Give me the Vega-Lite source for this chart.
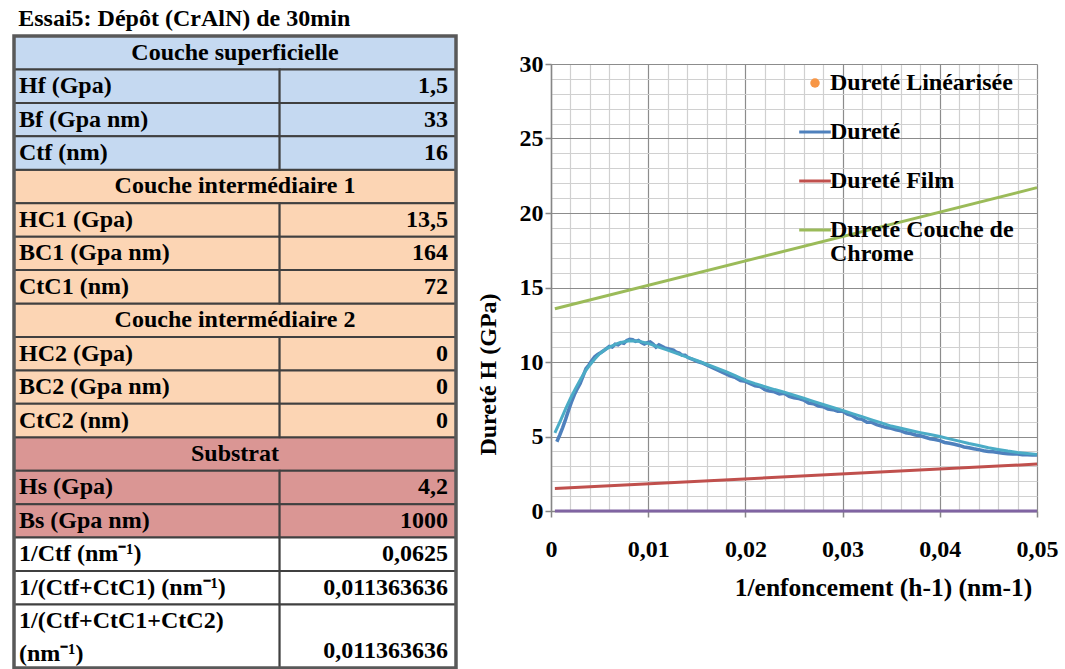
{
  "$schema": "https://vega.github.io/schema/vega-lite/v6.json",
  "padding": {"left": 12, "top": 7, "right": 2, "bottom": 0},
  "title": {"text": "Essai5: Dépôt (CrAlN) de 30min", "anchor": "start", "dx": 6, "offset": 3, "font": "Liberation Serif", "fontSize": 24, "fontWeight": "bold", "color": "#000000"},
  "spacing": 18,
  "resolve": {"scale": {"color": "independent", "fill": "independent"}, "legend": {"color": "independent", "fill": "independent"}},
  "datasets": {
    "table": [
      {"row": 0, "rowEnd": 1, "kind": "header", "section": "sup", "label": "Couche superficielle", "value": ""},
      {"row": 1, "rowEnd": 2, "kind": "data", "section": "sup", "label": "Hf (Gpa)", "value": "1,5"},
      {"row": 2, "rowEnd": 3, "kind": "data", "section": "sup", "label": "Bf (Gpa nm)", "value": "33"},
      {"row": 3, "rowEnd": 4, "kind": "data", "section": "sup", "label": "Ctf (nm)", "value": "16"},
      {"row": 4, "rowEnd": 5, "kind": "header", "section": "int", "label": "Couche intermédiaire 1", "value": ""},
      {"row": 5, "rowEnd": 6, "kind": "data", "section": "int", "label": "HC1 (Gpa)", "value": "13,5"},
      {"row": 6, "rowEnd": 7, "kind": "data", "section": "int", "label": "BC1 (Gpa nm)", "value": "164"},
      {"row": 7, "rowEnd": 8, "kind": "data", "section": "int", "label": "CtC1 (nm)", "value": "72"},
      {"row": 8, "rowEnd": 9, "kind": "header", "section": "int", "label": "Couche intermédiaire 2", "value": ""},
      {"row": 9, "rowEnd": 10, "kind": "data", "section": "int", "label": "HC2 (Gpa)", "value": "0"},
      {"row": 10, "rowEnd": 11, "kind": "data", "section": "int", "label": "BC2 (Gpa nm)", "value": "0"},
      {"row": 11, "rowEnd": 12, "kind": "data", "section": "int", "label": "CtC2 (nm)", "value": "0"},
      {"row": 12, "rowEnd": 13, "kind": "header", "section": "sub", "label": "Substrat", "value": ""},
      {"row": 13, "rowEnd": 14, "kind": "data", "section": "sub", "label": "Hs (Gpa)", "value": "4,2"},
      {"row": 14, "rowEnd": 15, "kind": "data", "section": "sub", "label": "Bs (Gpa nm)", "value": "1000"},
      {"row": 15, "rowEnd": 16, "kind": "data", "section": "calc", "label": "1/Ctf (nm⁻¹)", "value": "0,0625"},
      {"row": 16, "rowEnd": 17, "kind": "data", "section": "calc", "label": "1/(Ctf+CtC1) (nm⁻¹)", "value": "0,011363636"},
      {"row": 17, "rowEnd": 18.9, "kind": "data", "section": "calc", "label": "1/(Ctf+CtC1+CtC2)\n(nm⁻¹)", "value": "0,011363636"}
    ],
    "chart": [
      {"series": "Dureté Couche de Chrome", "x": 0.0004, "y": 13.57},
      {"series": "Dureté Couche de Chrome", "x": 0.05, "y": 21.7},
      {"series": "Dureté Film", "x": 0.0004, "y": 1.51},
      {"series": "Dureté Film", "x": 0.05, "y": 3.15},
      {"series": "Dureté Couche 2", "x": 0.0004, "y": 0},
      {"series": "Dureté Couche 2", "x": 0.05, "y": 0},
      {"series": "Dureté Modèle", "x": 0.0004, "y": 5.25},
      {"series": "Dureté Modèle", "x": 0.001, "y": 6.1},
      {"series": "Dureté Modèle", "x": 0.0015, "y": 6.85},
      {"series": "Dureté Modèle", "x": 0.002, "y": 7.55},
      {"series": "Dureté Modèle", "x": 0.0025, "y": 8.2},
      {"series": "Dureté Modèle", "x": 0.003, "y": 8.8},
      {"series": "Dureté Modèle", "x": 0.0035, "y": 9.35},
      {"series": "Dureté Modèle", "x": 0.004, "y": 9.8},
      {"series": "Dureté Modèle", "x": 0.0045, "y": 10.2},
      {"series": "Dureté Modèle", "x": 0.005, "y": 10.55},
      {"series": "Dureté Modèle", "x": 0.0055, "y": 10.8},
      {"series": "Dureté Modèle", "x": 0.006, "y": 11.0},
      {"series": "Dureté Modèle", "x": 0.007, "y": 11.28},
      {"series": "Dureté Modèle", "x": 0.008, "y": 11.43},
      {"series": "Dureté Modèle", "x": 0.009, "y": 11.4},
      {"series": "Dureté Modèle", "x": 0.01, "y": 11.25},
      {"series": "Dureté Modèle", "x": 0.011, "y": 11.02},
      {"series": "Dureté Modèle", "x": 0.012, "y": 10.8},
      {"series": "Dureté Modèle", "x": 0.013, "y": 10.56},
      {"series": "Dureté Modèle", "x": 0.014, "y": 10.33},
      {"series": "Dureté Modèle", "x": 0.015, "y": 10.1},
      {"series": "Dureté Modèle", "x": 0.016, "y": 9.85},
      {"series": "Dureté Modèle", "x": 0.017, "y": 9.6},
      {"series": "Dureté Modèle", "x": 0.018, "y": 9.35},
      {"series": "Dureté Modèle", "x": 0.019, "y": 9.07},
      {"series": "Dureté Modèle", "x": 0.02, "y": 8.77},
      {"series": "Dureté Modèle", "x": 0.021, "y": 8.55},
      {"series": "Dureté Modèle", "x": 0.022, "y": 8.35},
      {"series": "Dureté Modèle", "x": 0.023, "y": 8.15},
      {"series": "Dureté Modèle", "x": 0.024, "y": 7.97},
      {"series": "Dureté Modèle", "x": 0.025, "y": 7.78},
      {"series": "Dureté Modèle", "x": 0.026, "y": 7.57},
      {"series": "Dureté Modèle", "x": 0.027, "y": 7.36},
      {"series": "Dureté Modèle", "x": 0.028, "y": 7.15},
      {"series": "Dureté Modèle", "x": 0.029, "y": 6.95},
      {"series": "Dureté Modèle", "x": 0.03, "y": 6.75},
      {"series": "Dureté Modèle", "x": 0.031, "y": 6.54},
      {"series": "Dureté Modèle", "x": 0.032, "y": 6.33},
      {"series": "Dureté Modèle", "x": 0.033, "y": 6.12},
      {"series": "Dureté Modèle", "x": 0.034, "y": 5.91},
      {"series": "Dureté Modèle", "x": 0.035, "y": 5.7},
      {"series": "Dureté Modèle", "x": 0.036, "y": 5.55},
      {"series": "Dureté Modèle", "x": 0.037, "y": 5.4},
      {"series": "Dureté Modèle", "x": 0.038, "y": 5.26},
      {"series": "Dureté Modèle", "x": 0.039, "y": 5.13},
      {"series": "Dureté Modèle", "x": 0.04, "y": 5.0},
      {"series": "Dureté Modèle", "x": 0.041, "y": 4.84},
      {"series": "Dureté Modèle", "x": 0.042, "y": 4.69},
      {"series": "Dureté Modèle", "x": 0.043, "y": 4.53},
      {"series": "Dureté Modèle", "x": 0.044, "y": 4.39},
      {"series": "Dureté Modèle", "x": 0.045, "y": 4.25},
      {"series": "Dureté Modèle", "x": 0.046, "y": 4.13},
      {"series": "Dureté Modèle", "x": 0.047, "y": 4.02},
      {"series": "Dureté Modèle", "x": 0.048, "y": 3.93},
      {"series": "Dureté Modèle", "x": 0.049, "y": 3.86},
      {"series": "Dureté Modèle", "x": 0.05, "y": 3.8},
      {"series": "Dureté", "x": 0.0006, "y": 4.65},
      {"series": "Dureté", "x": 0.0009, "y": 5.1},
      {"series": "Dureté", "x": 0.0012, "y": 5.6},
      {"series": "Dureté", "x": 0.0015, "y": 6.15},
      {"series": "Dureté", "x": 0.0018, "y": 6.75},
      {"series": "Dureté", "x": 0.0021, "y": 7.3},
      {"series": "Dureté", "x": 0.0024, "y": 7.8},
      {"series": "Dureté", "x": 0.0027, "y": 8.2},
      {"series": "Dureté", "x": 0.003, "y": 8.55},
      {"series": "Dureté", "x": 0.0033, "y": 9.05},
      {"series": "Dureté", "x": 0.0036, "y": 9.55},
      {"series": "Dureté", "x": 0.0039, "y": 9.8},
      {"series": "Dureté", "x": 0.0042, "y": 10.1},
      {"series": "Dureté", "x": 0.0045, "y": 10.35},
      {"series": "Dureté", "x": 0.0048, "y": 10.5},
      {"series": "Dureté", "x": 0.0051, "y": 10.62},
      {"series": "Dureté", "x": 0.0054, "y": 10.75},
      {"series": "Dureté", "x": 0.0057, "y": 10.9},
      {"series": "Dureté", "x": 0.006, "y": 11.05},
      {"series": "Dureté", "x": 0.0063, "y": 11.0},
      {"series": "Dureté", "x": 0.0066, "y": 11.2},
      {"series": "Dureté", "x": 0.0069, "y": 11.15},
      {"series": "Dureté", "x": 0.0072, "y": 11.3},
      {"series": "Dureté", "x": 0.0075, "y": 11.25},
      {"series": "Dureté", "x": 0.0078, "y": 11.45},
      {"series": "Dureté", "x": 0.0081, "y": 11.52},
      {"series": "Dureté", "x": 0.0084, "y": 11.5},
      {"series": "Dureté", "x": 0.0087, "y": 11.38},
      {"series": "Dureté", "x": 0.009, "y": 11.45},
      {"series": "Dureté", "x": 0.0093, "y": 11.3},
      {"series": "Dureté", "x": 0.0096, "y": 11.2},
      {"series": "Dureté", "x": 0.0099, "y": 11.3},
      {"series": "Dureté", "x": 0.0102, "y": 11.35},
      {"series": "Dureté", "x": 0.0105, "y": 11.2},
      {"series": "Dureté", "x": 0.0108, "y": 11.0},
      {"series": "Dureté", "x": 0.0111, "y": 11.15},
      {"series": "Dureté", "x": 0.0114, "y": 11.05},
      {"series": "Dureté", "x": 0.0117, "y": 10.95},
      {"series": "Dureté", "x": 0.012, "y": 10.9},
      {"series": "Dureté", "x": 0.0123, "y": 10.85},
      {"series": "Dureté", "x": 0.0126, "y": 10.8},
      {"series": "Dureté", "x": 0.0129, "y": 10.65},
      {"series": "Dureté", "x": 0.0132, "y": 10.6},
      {"series": "Dureté", "x": 0.0135, "y": 10.45},
      {"series": "Dureté", "x": 0.0138, "y": 10.45},
      {"series": "Dureté", "x": 0.0141, "y": 10.3},
      {"series": "Dureté", "x": 0.0145, "y": 10.2},
      {"series": "Dureté", "x": 0.015, "y": 10.05},
      {"series": "Dureté", "x": 0.0155, "y": 9.95},
      {"series": "Dureté", "x": 0.016, "y": 9.8},
      {"series": "Dureté", "x": 0.0165, "y": 9.65},
      {"series": "Dureté", "x": 0.017, "y": 9.5},
      {"series": "Dureté", "x": 0.0175, "y": 9.35},
      {"series": "Dureté", "x": 0.018, "y": 9.2},
      {"series": "Dureté", "x": 0.0185, "y": 9.05},
      {"series": "Dureté", "x": 0.019, "y": 8.95},
      {"series": "Dureté", "x": 0.0195, "y": 8.75},
      {"series": "Dureté", "x": 0.02, "y": 8.7},
      {"series": "Dureté", "x": 0.0205, "y": 8.55},
      {"series": "Dureté", "x": 0.021, "y": 8.4},
      {"series": "Dureté", "x": 0.0215, "y": 8.35},
      {"series": "Dureté", "x": 0.022, "y": 8.15},
      {"series": "Dureté", "x": 0.0225, "y": 8.05},
      {"series": "Dureté", "x": 0.023, "y": 8.0},
      {"series": "Dureté", "x": 0.0235, "y": 7.85},
      {"series": "Dureté", "x": 0.024, "y": 7.9},
      {"series": "Dureté", "x": 0.0245, "y": 7.7},
      {"series": "Dureté", "x": 0.025, "y": 7.6},
      {"series": "Dureté", "x": 0.0255, "y": 7.55},
      {"series": "Dureté", "x": 0.026, "y": 7.45},
      {"series": "Dureté", "x": 0.0265, "y": 7.25},
      {"series": "Dureté", "x": 0.027, "y": 7.2},
      {"series": "Dureté", "x": 0.0275, "y": 7.05},
      {"series": "Dureté", "x": 0.028, "y": 7.0},
      {"series": "Dureté", "x": 0.0285, "y": 6.85},
      {"series": "Dureté", "x": 0.029, "y": 6.8},
      {"series": "Dureté", "x": 0.0295, "y": 6.7},
      {"series": "Dureté", "x": 0.03, "y": 6.7},
      {"series": "Dureté", "x": 0.0305, "y": 6.5},
      {"series": "Dureté", "x": 0.031, "y": 6.4},
      {"series": "Dureté", "x": 0.0315, "y": 6.2},
      {"series": "Dureté", "x": 0.032, "y": 6.15},
      {"series": "Dureté", "x": 0.0325, "y": 5.95},
      {"series": "Dureté", "x": 0.033, "y": 5.95},
      {"series": "Dureté", "x": 0.0335, "y": 5.8},
      {"series": "Dureté", "x": 0.034, "y": 5.7},
      {"series": "Dureté", "x": 0.0345, "y": 5.6},
      {"series": "Dureté", "x": 0.035, "y": 5.55},
      {"series": "Dureté", "x": 0.0355, "y": 5.45},
      {"series": "Dureté", "x": 0.036, "y": 5.38},
      {"series": "Dureté", "x": 0.0365, "y": 5.25},
      {"series": "Dureté", "x": 0.037, "y": 5.2},
      {"series": "Dureté", "x": 0.0375, "y": 5.1},
      {"series": "Dureté", "x": 0.038, "y": 5.05},
      {"series": "Dureté", "x": 0.0385, "y": 4.95},
      {"series": "Dureté", "x": 0.039, "y": 4.85},
      {"series": "Dureté", "x": 0.0395, "y": 4.8},
      {"series": "Dureté", "x": 0.04, "y": 4.72},
      {"series": "Dureté", "x": 0.0405, "y": 4.6},
      {"series": "Dureté", "x": 0.041, "y": 4.55},
      {"series": "Dureté", "x": 0.0415, "y": 4.48},
      {"series": "Dureté", "x": 0.042, "y": 4.4},
      {"series": "Dureté", "x": 0.0425, "y": 4.3},
      {"series": "Dureté", "x": 0.043, "y": 4.25},
      {"series": "Dureté", "x": 0.0435, "y": 4.18},
      {"series": "Dureté", "x": 0.044, "y": 4.12},
      {"series": "Dureté", "x": 0.0445, "y": 4.05},
      {"series": "Dureté", "x": 0.045, "y": 4.0},
      {"series": "Dureté", "x": 0.0455, "y": 3.98},
      {"series": "Dureté", "x": 0.046, "y": 3.92},
      {"series": "Dureté", "x": 0.0465, "y": 3.88},
      {"series": "Dureté", "x": 0.047, "y": 3.85},
      {"series": "Dureté", "x": 0.0475, "y": 3.82},
      {"series": "Dureté", "x": 0.048, "y": 3.82},
      {"series": "Dureté", "x": 0.0485, "y": 3.78},
      {"series": "Dureté", "x": 0.049, "y": 3.78},
      {"series": "Dureté", "x": 0.0495, "y": 3.76},
      {"series": "Dureté", "x": 0.05, "y": 3.75}
    ]
  },
  "hconcat": [
    {
      "width": 442,
      "height": 604,
      "data": {"name": "table"},
      "transform": [
        {"calculate": "(datum.row + datum.rowEnd) / 2", "as": "mid"},
        {"calculate": "datum.row + 0.5", "as": "lmid"},
        {"calculate": "datum.rowEnd - 0.5", "as": "vmid"}
      ],
      "layer": [
        {
          "transform": [{"filter": "datum.kind === 'header'"}],
          "mark": {"type": "rect", "stroke": "#404040", "strokeWidth": 2},
          "encoding": {
            "x": {"datum": 0, "type": "quantitative", "scale": {"domain": [0, 1], "nice": false, "zero": false}, "axis": null},
            "x2": {"datum": 1},
            "y": {"field": "row", "type": "quantitative", "scale": {"domain": [0, 18.9], "range": [-28, 604], "nice": false, "zero": false}, "axis": null},
            "y2": {"field": "rowEnd"},
            "fill": {"field": "section", "type": "nominal", "scale": {"domain": ["sup", "int", "sub", "calc"], "range": ["#C5D9F1", "#FCD5B4", "#DA9694", "#FFFFFF"]}, "legend": null}
          }
        },
        {
          "transform": [{"filter": "datum.kind === 'data'"}],
          "mark": {"type": "rect", "stroke": "#404040", "strokeWidth": 2},
          "encoding": {
            "x": {"datum": 0, "type": "quantitative", "axis": null},
            "x2": {"datum": 0.601},
            "y": {"field": "row", "type": "quantitative", "axis": null},
            "y2": {"field": "rowEnd"},
            "fill": {"field": "section", "type": "nominal", "legend": null}
          }
        },
        {
          "transform": [{"filter": "datum.kind === 'data'"}],
          "mark": {"type": "rect", "stroke": "#404040", "strokeWidth": 2},
          "encoding": {
            "x": {"datum": 0.601, "type": "quantitative", "axis": null},
            "x2": {"datum": 1},
            "y": {"field": "row", "type": "quantitative", "axis": null},
            "y2": {"field": "rowEnd"},
            "fill": {"field": "section", "type": "nominal", "legend": null}
          }
        },
        {
          "transform": [{"filter": "datum.row === 0"}],
          "mark": {"type": "rect", "fill": null, "stroke": "#595959", "strokeWidth": 3.5},
          "encoding": {
            "x": {"datum": 0, "type": "quantitative", "axis": null},
            "x2": {"datum": 1},
            "y": {"datum": 0, "type": "quantitative", "axis": null},
            "y2": {"datum": 18.9}
          }
        },
        {
          "transform": [{"filter": "datum.kind === 'header'"}],
          "mark": {"type": "text", "align": "center", "baseline": "middle", "font": "Liberation Serif", "fontSize": 24, "fontWeight": "bold", "color": "#000000"},
          "encoding": {
            "x": {"datum": 0.5, "type": "quantitative", "axis": null},
            "y": {"field": "mid", "type": "quantitative", "axis": null},
            "text": {"field": "label", "type": "nominal"}
          }
        },
        {
          "transform": [{"filter": "datum.kind === 'data'"}],
          "mark": {"type": "text", "align": "left", "baseline": "middle", "dx": 5, "lineBreak": "\n", "lineHeight": 33, "font": "Liberation Serif", "fontSize": 24, "fontWeight": "bold", "color": "#000000"},
          "encoding": {
            "x": {"datum": 0, "type": "quantitative", "axis": null},
            "y": {"field": "lmid", "type": "quantitative", "axis": null},
            "text": {"field": "label", "type": "nominal"}
          }
        },
        {
          "transform": [{"filter": "datum.kind === 'data'"}],
          "mark": {"type": "text", "align": "right", "baseline": "middle", "dx": -8, "font": "Liberation Serif", "fontSize": 24, "fontWeight": "bold", "color": "#000000"},
          "encoding": {
            "x": {"datum": 1, "type": "quantitative", "axis": null},
            "y": {"field": "vmid", "type": "quantitative", "axis": null},
            "text": {"field": "value", "type": "nominal"}
          }
        }
      ]
    },
    {
      "width": 486,
      "height": 447,
      "data": {"name": "chart"},
      "resolve": {"axis": {"x": "independent", "y": "independent"}},
      "layer": [
        {
          "transform": [{"filter": "datum.series === 'Dureté Couche 2' || datum.series === 'Dureté Film' || datum.series === 'Dureté Couche de Chrome'"}],
          "mark": {"type": "line", "strokeWidth": 3},
          "encoding": {
            "x": {
              "field": "x", "type": "quantitative",
              "scale": {"domain": [0, 0.05], "nice": false, "zero": false},
              "axis": {"orient": "top", "values": [0.002, 0.004, 0.006, 0.008, 0.012, 0.014, 0.016, 0.018, 0.022, 0.024, 0.026, 0.028, 0.032, 0.034, 0.036, 0.038, 0.042, 0.044, 0.046, 0.048], "grid": true, "gridColor": "#D0D0D0", "gridWidth": 1.2, "labels": false, "ticks": false, "domain": false, "title": null}
            },
            "y": {
              "field": "y", "type": "quantitative",
              "scale": {"domain": [0, 30], "nice": false, "zero": false},
              "axis": {"orient": "right", "values": [1, 2, 3, 4, 6, 7, 8, 9, 11, 12, 13, 14, 16, 17, 18, 19, 21, 22, 23, 24, 26, 27, 28, 29], "grid": true, "gridColor": "#D0D0D0", "gridWidth": 1.2, "labels": false, "ticks": false, "domain": false, "title": null}
            },
            "color": {
              "field": "series", "type": "nominal",
              "scale": {
                "domain": ["Dureté Linéarisée", "Dureté", "Dureté Film", "Dureté Couche de Chrome", "Dureté Couche 2", "Dureté Modèle"],
                "range": ["#F79646", "#4F81BD", "#C0504D", "#9BBB59", "#8064A2", "#4BACC6"]
              },
              "legend": {
                "orient": "none", "legendX": 252, "legendY": 7, "direction": "vertical",
                "title": null,
                "values": ["Dureté Linéarisée", "Dureté", "Dureté Film", "Dureté Couche de Chrome"],
                "symbolType": "stroke", "symbolSize": 1000, "symbolStrokeWidth": 3,
                "rowPadding": 25, "labelOffset": 3, "padding": 0, "labelLimit": 400,
                "labelFont": "Liberation Serif", "labelFontSize": 24, "labelFontWeight": "bold", "labelColor": "#000000",
                "encode": {
                  "symbols": {"update": {
                    "shape": {"signal": "datum.value === 'Dureté Linéarisée' ? 'circle' : 'stroke'"},
                    "size": {"signal": "datum.value === 'Dureté Linéarisée' ? 90 : 1000"},
                    "fill": {"signal": "datum.value === 'Dureté Linéarisée' ? '#F79646' : 'transparent'"},
                    "strokeWidth": {"signal": "datum.value === 'Dureté Linéarisée' ? 0 : 3"}
                  }},
                  "labels": {"update": {
                    "text": {"signal": "datum.value === 'Dureté Couche de Chrome' ? ['Dureté Couche de', 'Chrome'] : datum.label"},
                    "baseline": {"signal": "datum.value === 'Dureté Couche de Chrome' ? 'top' : 'middle'"},
                    "dy": {"signal": "datum.value === 'Dureté Couche de Chrome' ? -12 : 0"},
                    "lineHeight": {"value": 24}
                  }}
                }
              }
            }
          }
        },
        {
          "transform": [{"filter": "datum.series === 'Dureté'"}],
          "mark": {"type": "line", "strokeWidth": 3.5},
          "encoding": {
            "x": {
              "field": "x", "type": "quantitative",
              "axis": {
                "orient": "bottom", "values": [0, 0.01, 0.02, 0.03, 0.04, 0.05], "grid": true, "gridColor": "#8C8C8C", "gridWidth": 1.2,
                "domainColor": "#868686", "domainWidth": 1.5, "tickColor": "#868686", "tickSize": 6, "tickWidth": 1.5,
                "labelPadding": 20, "labelFlush": false, "labelOverlap": false,
                "labelExpr": "datum.value === 0 ? '0' : replace(format(datum.value, '.2f'), '.', ',')",
                "title": "1/enfoncement (h-1) (nm-1)", "titleFontSize": 25.5, "titlePadding": 14, "titleX": 332, "titleAlign": "center"
              }
            },
            "y": {
              "field": "y", "type": "quantitative",
              "axis": {
                "orient": "left", "values": [0, 5, 10, 15, 20, 25, 30], "grid": true, "gridColor": "#8C8C8C", "gridWidth": 1.2,
                "domainColor": "#868686", "domainWidth": 1.5, "tickColor": "#868686", "tickSize": 6, "tickWidth": 1.5,
                "labelPadding": 2, "labelFlush": false, "labelOverlap": false,
                "title": "Dureté H (GPa)", "titlePadding": 19, "titleY": 310
              }
            },
            "color": {"field": "series", "type": "nominal"}
          }
        },
        {
          "transform": [{"filter": "datum.series === 'Dureté Modèle'"}],
          "mark": {"type": "line", "strokeWidth": 3},
          "encoding": {
            "x": {"field": "x", "type": "quantitative", "axis": null},
            "y": {"field": "y", "type": "quantitative", "axis": null},
            "color": {"field": "series", "type": "nominal"}
          }
        }
      ]
    }
  ],
  "config": {
    "view": {"stroke": null},
    "font": "Liberation Serif",
    "text": {"font": "Liberation Serif", "fontSize": 24, "fontWeight": "bold", "color": "#000000"},
    "axis": {
      "labelFont": "Liberation Serif", "labelFontSize": 24, "labelFontWeight": "bold", "labelColor": "#000000",
      "titleFont": "Liberation Serif", "titleFontSize": 24, "titleFontWeight": "bold", "titleColor": "#000000"
    }
  }
}
